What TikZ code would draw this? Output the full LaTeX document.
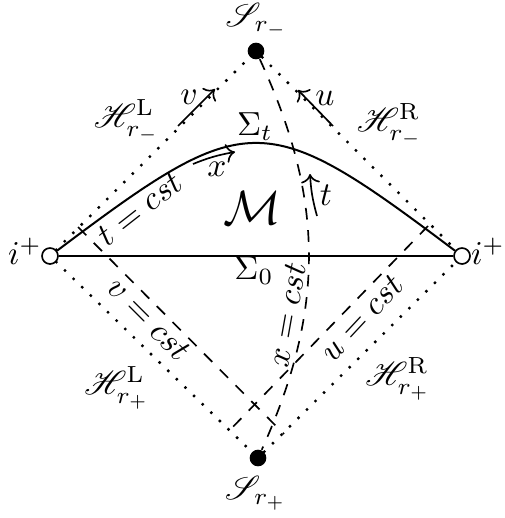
\documentclass[tikz,border=0pt]{standalone}
\usepackage{amsmath}
\usepackage{mathrsfs}
\usetikzlibrary{arrows.meta}
\begin{document}
\begin{tikzpicture}[x=0.3pt,y=-0.3pt,
  dotline/.style={line width=1.0pt, dash pattern=on 0pt off 3.6pt, line cap=round},
  dashline/.style={line width=0.5pt, dash pattern=on 3.5pt off 3.2pt},
  solidline/.style={line width=0.6pt},
  opendot/.style={circle, draw, fill=white, line width=0.5pt, inner sep=0pt, minimum size=4.8pt},
  filldot/.style={circle, fill=black, inner sep=0pt, minimum size=5pt},
  arr/.style={->, line width=0.5pt},
  lbl/.style={inner sep=0pt}]
\useasboundingbox (0,0) rectangle (504,518);
% points
\node[filldot] (top) at (256,51) {};
\node[filldot] (bot) at (258,458) {};
\node[opendot] (L) at (50,256) {};
\node[opendot] (R) at (462,256) {};
% horizons
\draw[dotline] (L) -- (top);
\draw[dotline] (top) -- (R);
\draw[dotline] (L) -- (bot);
\draw[dotline] (bot) -- (R);
% Sigma_0 and Sigma_t
\draw[solidline] (L) -- (R);
\draw[solidline] (L) .. controls (248,107) and (264,107) .. (R);
% dashed lines
\coordinate (v1) at (78,227);
\coordinate (v2) at (284,434);
\coordinate (u1) at (428,226);
\coordinate (u2) at (227,433);
\draw[dashline] (v1) -- (v2);
\draw[dashline] (u1) -- (u2);
\draw[dashline] (top) .. controls (325,200) and (325,310) .. (bot);
% arrows
\coordinate (va) at (178,126); \coordinate (vb) at (215,89);
\coordinate (ua) at (333,126); \coordinate (ub) at (298,90);
\coordinate (xa) at (193,164); \coordinate (xb) at (235,152);
\coordinate (ta) at (317,216); \coordinate (tb) at (310,174);
\draw[arr] (va) -- (vb);
\draw[arr] (ua) -- (ub);
\draw[arr] (xa) to[bend left=6] (xb);
\draw[arr] (ta) to[bend left=6] (tb);
% labels
\node[lbl] (lv) at (189,97) {$v$};
\node[lbl] (lu) at (325,98) {$u$};
\node[lbl] (lx) at (217,169) {$x$};
\node[lbl] (lt) at (326,195) {$t$};
\node[inner sep=1pt] (Stop) at (257,20) {$\mathscr{S}_{r_-}$};
\node (Sbot) at (256,493) {$\mathscr{S}_{r_+}$};
\node (HLm) at (127,121) {$\mathscr{H}^{\mathrm{L}}_{r_-}$};
\node (HRm) at (390,125) {$\mathscr{H}^{\mathrm{R}}_{r_-}$};
\node (HLp) at (117,388) {$\mathscr{H}^{\mathrm{L}}_{r_+}$};
\node (HRp) at (398,379) {$\mathscr{H}^{\mathrm{R}}_{r_+}$};
\node (St) at (255,127) {$\Sigma_t$};
\node (S0) at (254,271) {$\Sigma_0$};
\node (M) at (252,208) {\Large $\mathcal{M}$};
\node (iL) at (25,251) {$i^+$};
\node (iR) at (488,251) {$i^+$};
\node[rotate=38] (tc) at (140,209) {$t=cst$};
\node[rotate=-45] (vc) at (149,319) {$v=cst$};
\node[rotate=80] (xc) at (287,315) {$x=cst$};
\node[rotate=47] (uc) at (362,318) {$u=cst$};
\end{tikzpicture}
\end{document}
